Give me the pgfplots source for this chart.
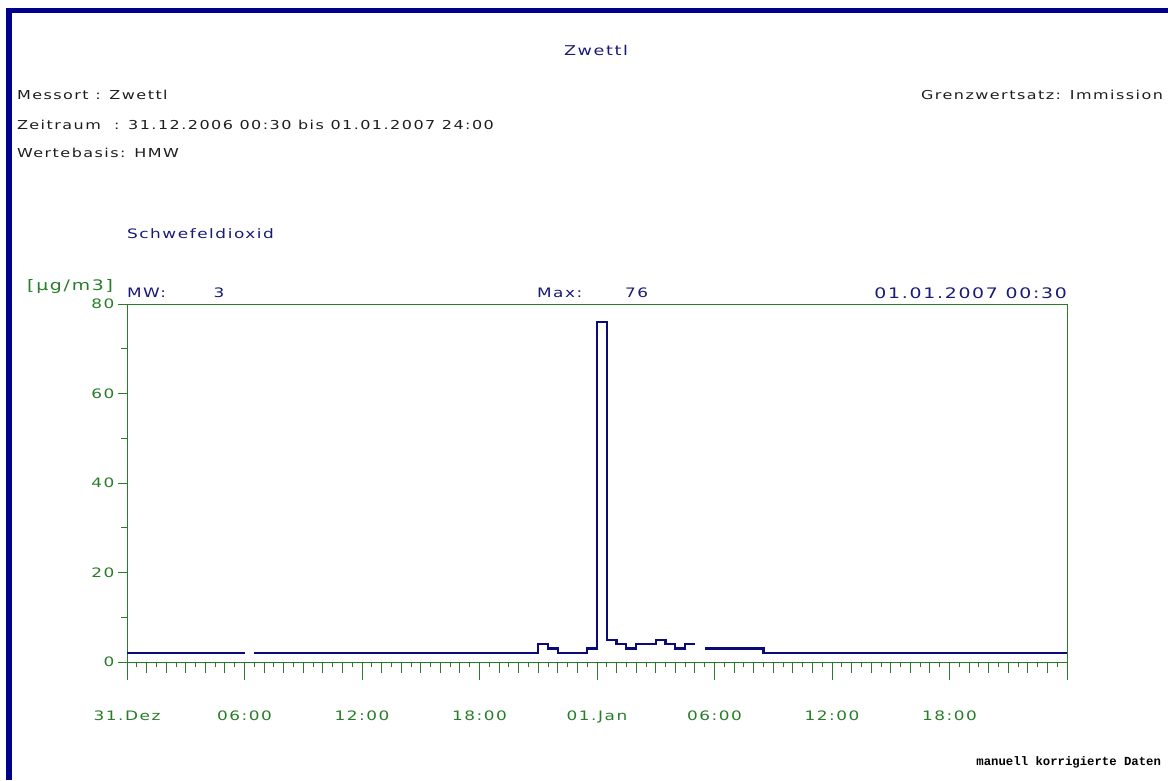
\documentclass[border=0pt]{standalone}
\usepackage{fontspec}
\usepackage{pgfplots}
\pgfplotsset{compat=1.18}
\newfontfamily\pf[FakeStretch=1.3,LetterSpace=12]{DejaVu Sans}
\newfontfamily\mf{Liberation Mono}
\definecolor{navy}{RGB}{0,0,140}
\definecolor{tnavy}{RGB}{25,25,120}
\definecolor{grn}{RGB}{40,125,40}
\definecolor{dline}{RGB}{10,10,120}
\definecolor{txt}{RGB}{30,30,30}
\newcommand{\tf}{\pf\fontsize{12.3}{13}\selectfont}
\newcommand{\af}{\pf\fontsize{13}{14}\selectfont}
\newcommand{\lf}{\pf\fontsize{14.5}{15}\selectfont}
\begin{document}
\begin{tikzpicture}[x=1pt,y=1pt]
\path[use as bounding box] (0,0) rectangle (1168,780);
\coordinate (O) at (127,118);
\fill[navy] (6,0) rectangle (11.5,772);
\fill[navy] (6,767) rectangle (1168,772);
\begin{scope}[every node/.style={inner sep=0pt, outer sep=0pt}]
\node[anchor=center, text=tnavy, font=\pf\fontsize{13.5}{14}\selectfont] at (596,730) {Zwettl};
\node[anchor=west, text=txt, font=\tf] at (17,685) {Messort : Zwettl};
\node[anchor=west, text=txt, font=\tf] at (17,655) {Zeitraum\ \ : 31.12.2006 00:30 bis 01.01.2007 24:00};
\node[anchor=west, text=txt, font=\tf] at (17,627) {Wertebasis: HMW};
\node[anchor=east, text=txt, font=\tf] at (1163,685) {Grenzwertsatz: Immission};
\node[anchor=west, text=tnavy, font=\af] at (127,546) {Schwefeldioxid};
\node[anchor=east, text=grn, font=\lf] at (113,493) {[µg/m3]};
\node[anchor=west, text=tnavy, font=\af] at (127,487) {MW:};
\node[anchor=center, text=tnavy, font=\af] at (219,487) {3};
\node[anchor=west, text=tnavy, font=\af] at (537,487) {Max:};
\node[anchor=west, text=tnavy, font=\af] at (625,487) {76};
\node[anchor=east, text=tnavy, font=\lf] at (1067,487) {01.01.2007 00:30};
\node[anchor=east, font=\mf\bfseries\fontsize{12.3}{13}\selectfont] at (1161,18) {manuell korrigierte Daten};
\end{scope}
% hourly and half-hourly ticks
\begin{axis}[at={(O)}, anchor=south west, scale only axis,
  width=940pt, height=358pt, xmin=0, xmax=48, ymin=0, ymax=80,
  axis line style={draw=none}, tick style={grn, line width=0.9pt},
  tick align=outside, xtick pos=bottom, ytick=\empty,
  xtick={0,1,...,48}, xticklabels={}, major tick length=11pt,
  minor x tick num=1, minor tick length=5pt]
\end{axis}
% main axis: 6-hour ticks and labels
\begin{axis}[at={(O)}, anchor=south west, scale only axis,
  width=940pt, height=358pt, xmin=0, xmax=48, ymin=0, ymax=80,
  axis line style={grn, line width=0.9pt}, tick style={grn, line width=0.9pt},
  tick align=outside, xtick pos=bottom, ytick pos=left,
  xtick={0,6,...,48},
  xticklabels={31.Dez,06:00,12:00,18:00,01.Jan,06:00,12:00,18:00,{}},
  major tick length=18pt, xticklabel shift=27pt,
  ytick=\empty,
  xticklabel style={font=\af, text=grn},
  /pgf/number format/assume math mode=true]
\end{axis}
\begin{axis}[at={(O)}, anchor=south west, scale only axis,
  width=940pt, height=358pt, xmin=0, xmax=48, ymin=0, ymax=80,
  axis line style={grn, line width=0.9pt}, tick style={grn, line width=0.9pt},
  tick align=outside, ytick pos=left, xtick=\empty,
  ytick={0,20,...,80}, minor ytick={10,30,50,70},
  major tick length=9pt, minor tick length=6pt,
  yticklabel style={font=\af, text=grn},
  /pgf/number format/assume math mode=true]
\addplot[const plot, dline, line width=2.2pt] coordinates {(0,2) (6,2)};
\addplot[const plot, dline, line width=2.2pt] coordinates {(6.5,2) (21,4) (21.5,3) (22,2) (23.5,3) (24,76) (24.5,5) (25,4) (25.5,3) (26,4) (27,5) (27.5,4) (28,3) (28.5,4) (29,4)};
\addplot[const plot, dline, line width=2.2pt] coordinates {(29.5,3) (32.5,2) (48,2)};
\end{axis}
\end{tikzpicture}
\end{document}
